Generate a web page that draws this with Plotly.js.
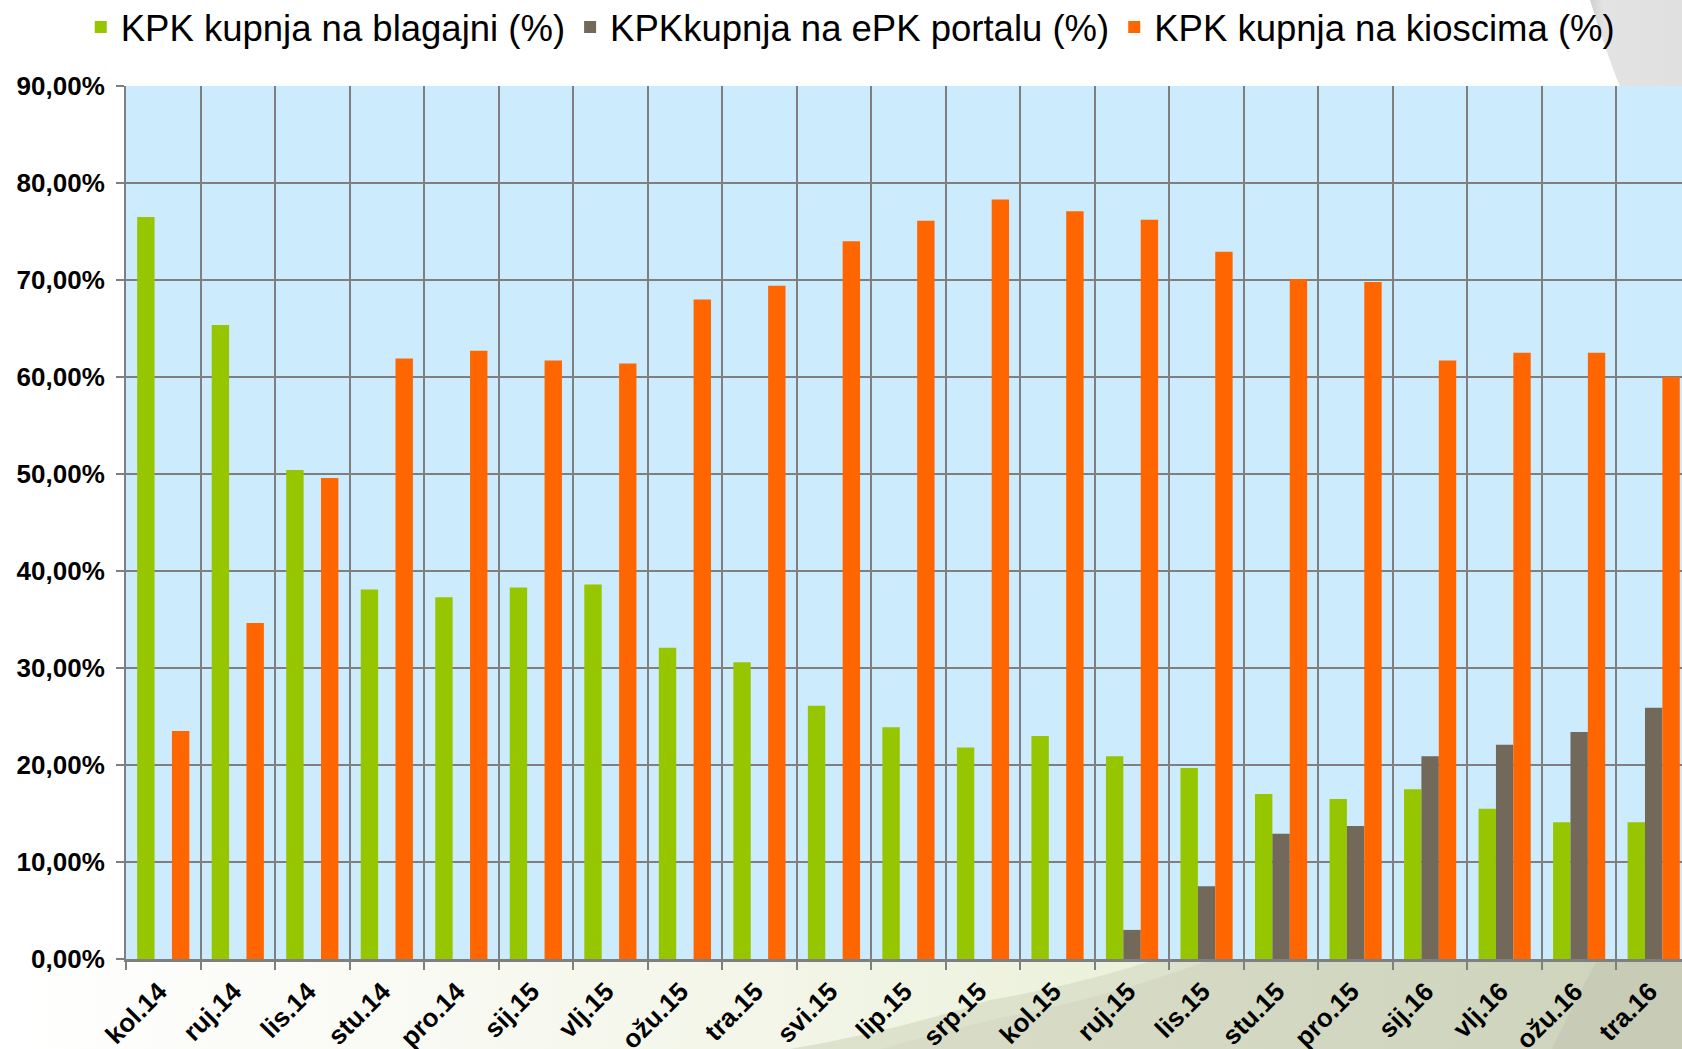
<!DOCTYPE html>
<html>
<head>
<meta charset="utf-8">
<script src="https://cdn.plot.ly/plotly-3.0.1.min.js"></script>
<style>
  html, body { margin: 0; padding: 0; width: 1682px; height: 1049px; overflow: hidden; background: #ffffff; }
  #bg { position: absolute; left: 0; top: 0; width: 1682px; height: 1049px; z-index: 0; }
  #chart { position: absolute; left: 0; top: 0; width: 1682px; height: 1049px; z-index: 1; }
</style>
</head>
<body>
<svg id="bg" width="1682" height="1049" viewBox="0 0 1682 1049" xmlns="http://www.w3.org/2000/svg">
  <defs>
    <linearGradient id="gLeft" x1="0" y1="0" x2="1" y2="0">
      <stop offset="0" stop-color="#ffffff"/>
      <stop offset="0.35" stop-color="#f6f8ee"/>
      <stop offset="0.75" stop-color="#e9efd6"/>
      <stop offset="1" stop-color="#e2e9cc"/>
    </linearGradient>
    <linearGradient id="gMid" x1="0" y1="0" x2="1" y2="0">
      <stop offset="0" stop-color="#d9ddc8"/>
      <stop offset="1" stop-color="#ced3bc"/>
    </linearGradient>
    <linearGradient id="gTop" x1="0" y1="0" x2="1" y2="0">
      <stop offset="0" stop-color="#cfcfcf"/>
      <stop offset="0.15" stop-color="#e3e3e3"/>
      <stop offset="1" stop-color="#e0e0e0"/>
    </linearGradient>
  </defs>
  <rect x="0" y="0" width="1682" height="1049" fill="#ffffff"/>
  <path d="M1590,0 Q1605,50 1625,100 L1682,100 L1682,0 Z" fill="url(#gTop)"/>
  <rect x="0" y="955" width="1682" height="94" fill="url(#gLeft)"/>
  <path d="M1170,955 Q1080,985 990,1000 Q900,1030 790,1049 L1682,1049 L1682,955 Z" fill="#dde2cc"/>
  <path d="M1222,955 Q1120,995 1000,1018 Q930,1035 880,1049 L1682,1049 L1682,955 Z" fill="url(#gMid)"/>
  <path d="M1600,955 Q1575,1000 1552,1049 L1682,1049 L1682,955 Z" fill="#c8ccb6"/>
</svg>
<div id="chart"></div>
<script>
const categories = ["kol.14","ruj.14","lis.14","stu.14","pro.14","sij.15","vlj.15","ožu.15","tra.15","svi.15","lip.15","srp.15","kol.15","ruj.15","lis.15","stu.15","pro.15","sij.16","vlj.16","ožu.16","tra.16"];
const blagajni = [76.5,65.35,50.4,38.1,37.3,38.3,38.6,32.1,30.6,26.1,23.9,21.8,23.0,20.9,19.7,17.0,16.5,17.5,15.5,14.1,14.1];
const portal   = [0,0,0,0,0,0,0,0,0,0,0,0,0,3.0,7.5,12.9,13.7,20.9,22.1,23.4,25.9];
const kiosci   = [23.5,34.65,49.6,61.9,62.7,61.7,61.4,68.0,69.4,74.0,76.1,78.3,77.1,76.2,72.9,70.1,69.8,61.7,62.5,62.5,60.0];
const seriesNames = ["KPK kupnja na blagajni (%)","KPKkupnja na ePK portalu (%)","KPK kupnja na kioscima (%)"];
const yTickVals = [0,10,20,30,40,50,60,70,80,90];
const yTickText = ["0,00%","10,00%","20,00%","30,00%","40,00%","50,00%","60,00%","70,00%","80,00%","90,00%"];

const colors = ["#95C600","#72695A","#FF6600"];
const vals = [blagajni, portal, kiosci];
const traces = vals.map((v, i) => ({
  type: "bar",
  x: categories,
  y: v,
  name: seriesNames[i],
  marker: { color: colors[i], line: { width: 0 } },
  hoverinfo: "skip"
}));

const layout = {
  width: 1682,
  height: 1049,
  margin: { l: 126, r: 0, t: 86, b: 90 },
  paper_bgcolor: "rgba(0,0,0,0)",
  plot_bgcolor: "#CCEBFC",
  barmode: "group",
  bargap: 0.3,
  bargroupgap: 0,
  font: { family: "Liberation Sans, Arial, sans-serif", color: "#000000" },
  showlegend: true,
  legend: {
    orientation: "h",
    xref: "container", yref: "container",
    x: 0.048, y: 0.974, xanchor: "left", yanchor: "middle",
    font: { size: 36.5, family: "Liberation Sans, Arial, sans-serif", color: "#000000" },
    bgcolor: "rgba(0,0,0,0)",
    itemclick: false, itemdoubleclick: false,
    traceorder: "normal"
  },
  xaxis: {
    type: "category",
    range: [-0.5, 20.38],
    tickson: "boundaries",
    showgrid: true,
    gridcolor: "#7F7F7F",
    gridwidth: 2,
    ticks: "outside",
    ticklen: 8,
    tickwidth: 2,
    tickcolor: "#7F7F7F",
    showline: true,
    linecolor: "#7F7F7F",
    linewidth: 3,
    tickangle: -45,
    ticklabelstandoff: 4,
    ticklabelshift: -4,
    tickfont: { size: 26, family: "Liberation Sans, Arial, sans-serif", weight: "bold", color: "#000000" },
    zeroline: false,
    fixedrange: true
  },
  yaxis: {
    range: [0, 90],
    tickvals: yTickVals,
    ticktext: yTickText,
    showgrid: true,
    gridcolor: "#7F7F7F",
    gridwidth: 2,
    ticks: "outside",
    ticklen: 8,
    tickwidth: 2,
    tickcolor: "#7F7F7F",
    showline: true,
    linecolor: "#7F7F7F",
    linewidth: 2,
    ticklabelstandoff: 6,
    tickfont: { size: 26, family: "Liberation Sans, Arial, sans-serif", weight: "bold", color: "#000000" },
    zeroline: false,
    fixedrange: true
  }
};

Plotly.newPlot("chart", traces, layout, { staticPlot: true, displayModeBar: false });
</script>
</body>
</html>
